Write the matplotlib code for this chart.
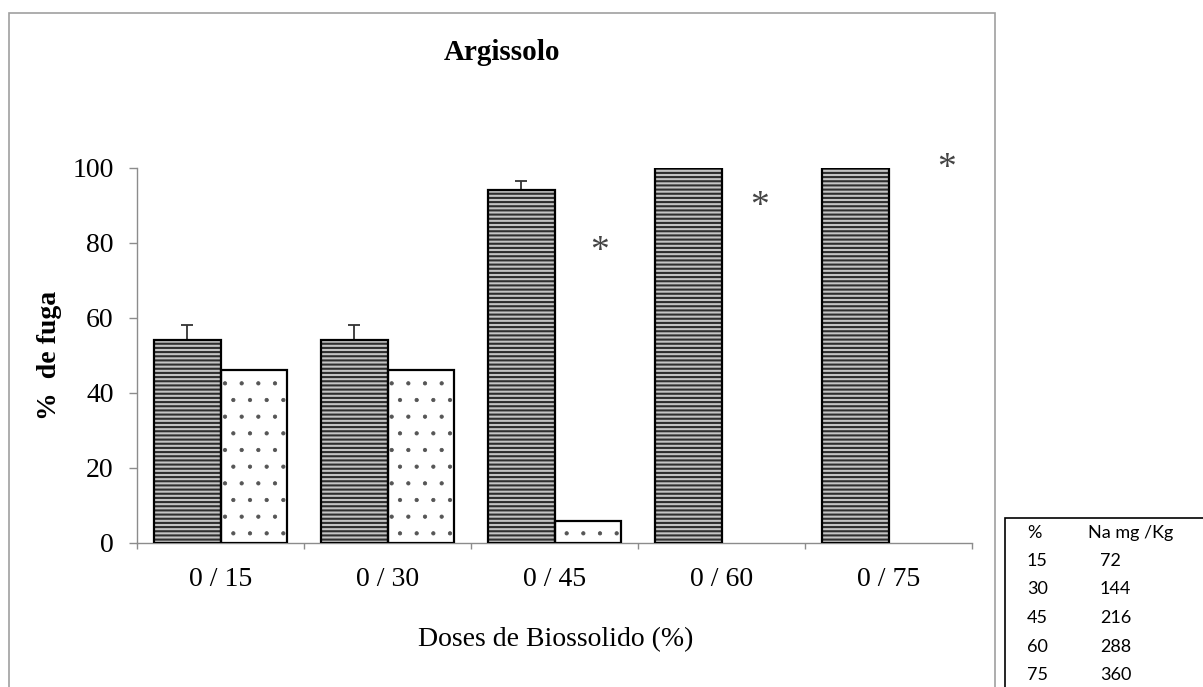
import matplotlib
matplotlib.use('Agg')
import matplotlib.pyplot as plt
from matplotlib.patches import Rectangle
import numpy as np

# data
doses = ['0 / 15', '0 / 30', '0 / 45', '0 / 60', '0 / 75']
fuga_controle = [54, 54, 94, 100, 100]      # striped bars
erro_controle = [4, 4, 2.5, 0, 0]
fuga_biossolido = [46, 46, 6, 0, 0]        # dotted bars
star_x = [2.27, 3.23, 4.35]                 # significance marks
star_y = [79.5, 91.5, 101.6]

tab_pct = ['15', '30', '45', '60', '75']
tab_na = ['72', '144', '216', '288', '360']

W, H = 1203, 687
serif = ['Liberation Serif', 'DejaVu Serif']

fig = plt.figure(figsize=(W / 100, H / 100), dpi=100)
ax = fig.add_axes([137 / W, 1 - 543 / H, (972 - 137) / W, (543 - 168) / H])

x = np.arange(len(doses))
w = 0.4


def hatch_lw(bars, lw):
    # per-bar hatch line width when the matplotlib version supports it
    for p in bars:
        if hasattr(p, 'set_hatch_linewidth'):
            p.set_hatch_linewidth(lw)


def outline(vals):
    # no black outline for empty bars
    return [1.6 if v > 0 else 0 for v in vals]


# striped bars: hatch layer then black outline
plt.rcParams['hatch.linewidth'] = 1.5
b1 = ax.bar(x - w / 2, fuga_controle, w, color='#c4c4c4', edgecolor='#2e2e2e',
            hatch='----', linewidth=0, zorder=2)
hatch_lw(b1, 1.5)
ax.bar(x - w / 2, fuga_controle, w, fill=False, edgecolor='black',
       linewidth=outline(fuga_controle), zorder=3)
# dotted bars
plt.rcParams['hatch.linewidth'] = 0.6
b2 = ax.bar(x + w / 2, fuga_biossolido, w, color='white', edgecolor='#555555',
            hatch='.', linewidth=0, zorder=2)
hatch_lw(b2, 0.6)
ax.bar(x + w / 2, fuga_biossolido, w, fill=False, edgecolor='black',
       linewidth=outline(fuga_biossolido), zorder=3)

# upper error bars only
ax.errorbar(x - w / 2, fuga_controle, yerr=[np.zeros(len(x)), erro_controle],
            fmt='none', ecolor='#333333', elinewidth=1.3, capsize=4.5,
            capthick=1.3, zorder=1)

for sx, sy in zip(star_x, star_y):
    ax.annotate('*', (sx, sy), xytext=(0, -5), textcoords='offset points',
                fontsize=27, color='#444444', family=serif,
                ha='center', va='center', annotation_clip=False)

ax.set_xlim(-0.5, len(doses) - 0.5)
ax.set_ylim(0, 100)
ax.set_yticks(range(0, 101, 20))
ax.set_xticks(x)
ax.set_xticklabels(doses)
ax.set_xticks(np.arange(-0.5, len(doses), 1), minor=True)

for s in ['top', 'right']:
    ax.spines[s].set_visible(False)
for s in ['left', 'bottom']:
    ax.spines[s].set_color('#8c8c8c')
    ax.spines[s].set_linewidth(1.0)

ax.tick_params(axis='y', direction='out', length=5.8, width=1, color='#8c8c8c',
               pad=11, labelsize=20)
ax.tick_params(axis='x', which='major', length=0, pad=17, labelsize=20)
ax.tick_params(axis='x', which='minor', direction='out', length=4.5, width=1,
               color='#8c8c8c')
for lab in ax.get_xticklabels() + ax.get_yticklabels():
    lab.set_family(serif)

# titles
fig.text(502 / W, 1 - 60 / H, 'Argissolo', fontsize=21, fontweight='bold',
         family=serif, ha='center', va='baseline')
fig.text(49 / W, (1 - 543 / H + 1 - 168 / H) / 2, '%  de fuga', fontsize=20,
         fontweight='bold', family=serif, rotation=90, ha='center', va='center')
fig.text(556 / W, 1 - 640 / H, 'Doses de Biossolido (%)', fontsize=20,
         family=serif, ha='center', va='center')

# chart area border
fig.patches.append(Rectangle((8.5 / W, -0.1), (995 - 8.5) / W, 1.1 - 13 / H,
                             transform=fig.transFigure, fill=False,
                             edgecolor='#a0a0a0', linewidth=1.2))

# dose table at the right
fig.patches.append(Rectangle((1005 / W, -0.1), 0.3, 1.1 - 518 / H,
                             transform=fig.transFigure, fill=False,
                             edgecolor='black', linewidth=1.2))
tab_font = ['Lato', 'DejaVu Sans']
fig.text(1027 / W, 1 - 533 / H, '%', fontsize=13, family=tab_font, va='center')
fig.text(1088 / W, 1 - 533 / H, 'Na mg /Kg', fontsize=13, family=tab_font,
         va='center')
for i, (p, n) in enumerate(zip(tab_pct, tab_na)):
    yy = 1 - (561 + 28.5 * i) / H
    fig.text(1027 / W, yy, p, fontsize=13, family=tab_font, va='center')
    fig.text(1100 / W, yy, n, fontsize=13, family=tab_font, va='center')

fig.savefig('out.png', dpi=100)
